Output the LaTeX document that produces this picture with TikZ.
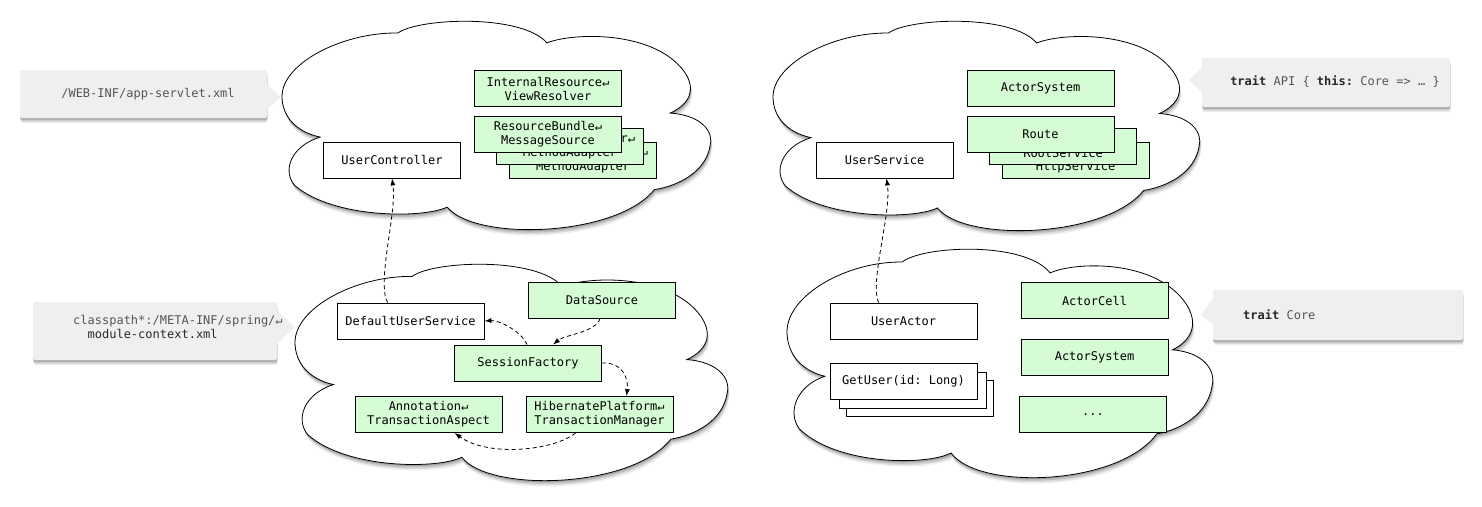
\documentclass[tikz,border=0pt]{standalone}
\usepackage{fontspec}
\setmonofont{DejaVu Sans Mono}
\usetikzlibrary{arrows.meta}
\definecolor{nodegreen}{RGB}{213,252,212}
\definecolor{callgray}{RGB}{239,239,239}
\definecolor{calltxt}{RGB}{85,85,85}
\definecolor{calldark}{RGB}{40,40,40}
\newcommand\cloudshape{(0.089,0.556) .. controls (0.03,0.53) and (0.0,0.45) .. (0.0,0.36) .. controls (0.0,0.2) and (0.14,0.05) .. (0.271,0.053) .. controls (0.32,-0.02) and (0.56,-0.04) .. (0.619,0.101) .. controls (0.68,0.05) and (0.87,0.04) .. (0.94,0.24) .. controls (0.97,0.33) and (0.95,0.40) .. (0.907,0.44) .. controls (0.98,0.45) and (1.01,0.53) .. (1.0,0.6) .. controls (0.99,0.72) and (0.93,0.79) .. (0.87,0.81) .. controls (0.78,1.04) and (0.45,1.06) .. (0.386,0.894) .. controls (0.33,0.95) and (0.12,0.95) .. (0.03,0.79) .. controls (0.0,0.72) and (0.02,0.60) .. (0.089,0.556) -- cycle}
\newcommand\cloudat[4]{%
  \foreach \d/\o in {6/0.06,4.5/0.09,3/0.12,1.5/0.15}{%
    \fill[black,opacity=\o,shift={(#1+0.3*\d,#2+\d)},xscale=#3,yscale=#4] \cloudshape;}
  \filldraw[fill=white,line width=0.8pt,shift={(#1,#2)},xscale=#3,yscale=#4] \cloudshape;
}
\tikzset{
  cls/.style={draw, line width=0.8pt, minimum width=147pt, minimum height=36pt, inner sep=0pt, align=center, font=\ttfamily\fontsize{12}{14}\selectfont},
  gcls/.style={cls, fill=nodegreen},
  wcls/.style={cls, fill=white},
  dep/.style={line width=0.8pt, dash pattern=on 4pt off 3pt, -{Latex[length=7pt,width=5pt]}},
  shade/.style={preaction={fill=black,opacity=0.07,transform canvas={xshift=0.5pt,yshift=-5pt}},
                preaction={fill=black,opacity=0.12,transform canvas={xshift=0.5pt,yshift=-3.5pt}},
                preaction={fill=black,opacity=0.16,transform canvas={yshift=-2pt}}},
  callbox/.style={shade, fill=callgray, rounded corners=2pt, inner sep=0pt},
  callptr/.style={fill=callgray},
  calltext/.style={inner sep=0pt, align=left, font=\ttfamily\fontsize{12}{14}\selectfont, text=calltxt},
}
\begin{document}
\begin{tikzpicture}[x=1pt,y=-1pt]
\useasboundingbox (0,0) rectangle (1482,506);
\fill[white] (0,0) rectangle (1482,506);

% clouds
\cloudat{282}{22}{428}{207}
\cloudat{295}{265}{432}{215}
\cloudat{773}{22}{426}{208}
\cloudat{787}{250}{425}{227}

% callouts
\node[callbox, minimum width=247pt, minimum height=48pt] (c1) at (143.5,94) {};
\coordinate (tip1) at (281,97);
\fill[callptr] ([xshift=-1pt,yshift=10pt]c1.east) -- (tip1) -- ([xshift=-1pt,yshift=-16pt]c1.east) -- cycle;
\node[calltext] (t1) at (148,94) {/WEB-INF/app-servlet.xml};

\node[callbox, minimum width=244pt, minimum height=58pt] (c2) at (155,331) {};
\coordinate (tip2) at (295,327);
\fill[callptr] ([xshift=-1pt,yshift=21pt]c2.east) -- (tip2) -- ([xshift=-1pt,yshift=-14pt]c2.east) -- cycle;
\node[calltext, anchor=west] (t2) at (73,327) {classpath*:/META-INF/spring/↵\\\phantom{mo}\textcolor{calldark}{module-context.xml}};

\node[callbox, minimum width=248pt, minimum height=49pt] (c3) at (1326,82.5) {};
\coordinate (tip3) at (1189,80);
\fill[callptr] ([xshift=1pt,yshift=15.5pt]c3.west) -- (tip3) -- ([xshift=1pt,yshift=-10.5pt]c3.west) -- cycle;
\node[calltext] (t3) at (1335,82) {\textcolor{calldark}{\textbf{trait}} API \{ \textcolor{calldark}{\textbf{this:}} Core => … \}};

\node[callbox, minimum width=250pt, minimum height=50pt] (c4) at (1338,315) {};
\coordinate (tip4) at (1201,315);
\fill[callptr] ([xshift=1pt,yshift=18pt]c4.west) -- (tip4) -- ([xshift=1pt,yshift=-10pt]c4.west) -- cycle;
\node[calltext, anchor=west] (t4) at (1243,315) {\textcolor{calldark}{\textbf{trait}} Core};

% top-left cloud
\node[wcls, minimum width=137pt] (uc) at (392,160) {UserController};
\node[gcls] (irvr) at (548,88.5) {InternalResource↵\\ViewResolver};
\node[gcls] (ma2) at (583,160) {AnnotationHandler↵\\MethodAdapter};
\node[gcls] (ma1) at (570,146) {AnnotationHandler↵\\MethodAdapter};
\node[gcls] (rbms) at (548,134.5) {ResourceBundle↵\\MessageSource};

% top-right cloud
\node[wcls, minimum width=137pt] (us) at (884.5,160) {UserService};
\node[gcls] (as1) at (1040.5,88.5) {ActorSystem};
\node[gcls] (http) at (1075.5,160) {\strut\\HttpService};
\node[gcls] (root) at (1063,146) {\strut\\RootService};
\node[gcls] (route) at (1040.5,134) {Route};

% bottom-left cloud
\node[wcls] (dus) at (410.5,321) {DefaultUserService};
\node[gcls] (ds) at (602,300) {DataSource};
\node[gcls] (sf) at (528,363) {SessionFactory};
\node[gcls] (ata) at (428.5,414.5) {Annotation↵\\TransactionAspect};
\node[gcls] (hp) at (599.5,414.5) {HibernatePlatform↵\\TransactionManager};

% bottom-right cloud
\node[wcls] (ua) at (903.5,321) {UserActor};
\node[wcls] (gu3) at (919.5,398) {};
\node[wcls] (gu2) at (913,390.5) {};
\node[wcls] (gu1) at (903.5,381) {GetUser(id: Long)};
\node[gcls] (ac) at (1094.5,300.5) {ActorCell};
\node[gcls] (as2) at (1094.5,357) {ActorSystem};
\node[gcls] (more) at (1093,414.5) {...};

% dependencies
\draw[dep] ([xshift=-2pt]ds.south) .. controls +(-4,14) and +(12,-10) .. ([xshift=25pt]sf.north);
\draw[dep] ([xshift=-1pt]sf.north) .. controls +(-6,-14) and +(14,-1) .. (dus.east);
\draw[dep] (sf.east) .. controls +(22,-1) and +(2,-16) .. ([xshift=27pt]hp.north);
\draw[dep] ([xshift=-24pt]hp.south) .. controls +(-20,17) and +(35,25) .. ([xshift=26pt]ata.south);
\draw[dep] ([xshift=-23pt]dus.north) .. controls +(-11,-22) and +(5,35) .. (uc.south);
\draw[dep] ([xshift=-25pt]ua.north) .. controls +(-9,-22) and +(5,35) .. ([xshift=2pt]us.south);
\end{tikzpicture}
\end{document}
